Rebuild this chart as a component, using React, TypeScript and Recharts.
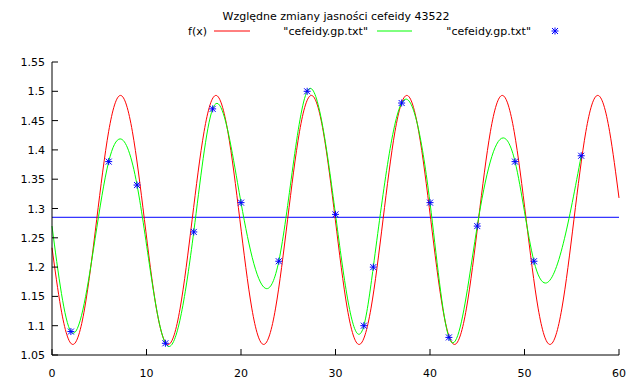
import React from 'react';
import { ComposedChart, Line, Scatter, XAxis, YAxis, ReferenceLine } from 'recharts';

const title = 'Względne zmiany jasności cefeidy 43522';
const seriesNames = ['f(x)', '"cefeidy.gp.txt"', '"cefeidy.gp.txt"'];

const xTicks = [0, 10, 20, 30, 40, 50, 60];
const yTicks = [1.05, 1.1, 1.15, 1.2, 1.25, 1.3, 1.35, 1.4, 1.45, 1.5, 1.55];

// f(x): fitted curve
const fitX = [
  0, 0.94, 2.2, 3.46, 4.73, 5.99, 7.25, 8.51, 9.78, 11.04, 12.3, 13.56, 14.83, 16.09, 17.35, 18.61,
  19.88, 21.14, 22.4, 23.66, 24.93, 26.19, 27.45, 28.71, 29.98, 31.24, 32.5, 33.76, 35.03, 36.29,
  37.55, 38.81, 40.08, 41.34, 42.6, 43.86, 45.13, 46.39, 47.65, 48.91, 50.18, 51.44, 52.7, 53.96,
  55.23, 56.49, 57.75, 59.01, 60,
];
const fitY = [
  1.233, 1.13, 1.068, 1.13, 1.281, 1.431, 1.493, 1.431, 1.281, 1.13, 1.068, 1.13, 1.281, 1.431, 1.493, 1.431,
  1.281, 1.13, 1.068, 1.13, 1.281, 1.431, 1.493, 1.431, 1.281, 1.13, 1.068, 1.13, 1.281, 1.431,
  1.493, 1.431, 1.281, 1.13, 1.068, 1.13, 1.281, 1.431, 1.493, 1.431, 1.281, 1.13, 1.068, 1.13,
  1.281, 1.431, 1.493, 1.431, 1.318,
];

// measurements (cefeidy.gp.txt)
const obsX = [2, 6, 9, 12, 15, 17, 20, 24, 27, 30, 33, 34, 37, 40, 42, 45, 49, 51, 56];
const obsY = [1.09, 1.38, 1.34, 1.07, 1.26, 1.47, 1.31, 1.21, 1.5, 1.29, 1.1, 1.2, 1.48, 1.31, 1.08, 1.27, 1.38, 1.21, 1.39];

// smoothed line starts at the left border
const smoothX = [0, ...obsX];
const smoothY = [1.27, ...obsY];

const meanLevel = 1.285;

const fitData = fitX.map((x, i) => ({ x, y: fitY[i] }));
const smoothData = smoothX.map((x, i) => ({ x, y: smoothY[i] }));
const obsData = obsX.map((x, i) => ({ x, y: obsY[i] }));

const FONT = '"DejaVu Sans", Verdana, sans-serif';

// natural cubic spline of y over x (like gnuplot "smooth csplines"), drawn as bezier segments
const xSpline = (context: any) => {
  let xs: number[] = [];
  let ys: number[] = [];
  return {
    areaStart() {},
    areaEnd() {},
    lineStart() {
      xs = [];
      ys = [];
    },
    point(x: number, y: number) {
      xs.push(+x);
      ys.push(+y);
    },
    lineEnd() {
      const n = xs.length;
      if (!n) return;
      context.moveTo(xs[0], ys[0]);
      if (n === 1) return;
      if (n === 2) {
        context.lineTo(xs[1], ys[1]);
        return;
      }
      const h: number[] = [];
      for (let i = 0; i < n - 1; i++) h.push(xs[i + 1] - xs[i]);
      const a: number[] = [], b: number[] = [], c: number[] = [], r: number[] = [];
      for (let i = 1; i < n - 1; i++) {
        a.push(h[i - 1]);
        b.push(2 * (h[i - 1] + h[i]));
        c.push(h[i]);
        r.push(6 * ((ys[i + 1] - ys[i]) / h[i] - (ys[i] - ys[i - 1]) / h[i - 1]));
      }
      const m = n - 2;
      for (let i = 1; i < m; i++) {
        const w = a[i] / b[i - 1];
        b[i] -= w * c[i - 1];
        r[i] -= w * r[i - 1];
      }
      const sol = new Array(m).fill(0);
      sol[m - 1] = r[m - 1] / b[m - 1];
      for (let i = m - 2; i >= 0; i--) sol[i] = (r[i] - c[i] * sol[i + 1]) / b[i];
      const M = [0, ...sol, 0];
      for (let i = 0; i < n - 1; i++) {
        const s = (ys[i + 1] - ys[i]) / h[i];
        const d0 = s - (h[i] * (2 * M[i] + M[i + 1])) / 6;
        const d1 = s + (h[i] * (M[i] + 2 * M[i + 1])) / 6;
        context.bezierCurveTo(
          xs[i] + h[i] / 3,
          ys[i] + (d0 * h[i]) / 3,
          xs[i + 1] - h[i] / 3,
          ys[i + 1] - (d1 * h[i]) / 3,
          xs[i + 1],
          ys[i + 1],
        );
      }
    },
  };
};

const BottomTick = ({ x, y, payload }: any) => (
  <g>
    <line x1={x} y1={y} x2={x} y2={y - 6} stroke="#000" />
    <text x={x} y={y + 22} textAnchor="middle" fontSize={11} fontFamily={FONT} fill="#000">
      {payload.value}
    </text>
  </g>
);

const LeftTick = ({ x, y, payload }: any) => (
  <g>
    <line x1={x} y1={y} x2={x + 6} y2={y} stroke="#000" />
    <text x={x - 7} y={y + 4} textAnchor="end" fontSize={11} fontFamily={FONT} fill="#000">
      {String(Number(payload.value.toFixed(2)))}
    </text>
  </g>
);

const TopTick = ({ x, y }: any) => <line x1={x} y1={y} x2={x} y2={y + 6} stroke="#000" />;
const RightTick = ({ x, y }: any) => <line x1={x} y1={y} x2={x - 6} y2={y} stroke="#000" />;

const Star = ({ cx, cy }: any) => (
  <g stroke="#0000ff" strokeWidth={1}>
    <line x1={cx - 3.5} y1={cy} x2={cx + 3.5} y2={cy} />
    <line x1={cx} y1={cy - 3.5} x2={cx} y2={cy + 3.5} />
    <line x1={cx - 3} y1={cy - 3} x2={cx + 3} y2={cy + 3} />
    <line x1={cx - 3} y1={cy + 3} x2={cx + 3} y2={cy - 3} />
  </g>
);

export default function App() {
  return (
    <div style={{ position: 'absolute', left: 0, top: 0, width: 640, height: 387, background: '#fff' }}>
      <ComposedChart width={640} height={387} margin={{ top: 62, right: 21, bottom: 0, left: 0 }}>
        <XAxis
          xAxisId="b"
          dataKey="x"
          type="number"
          domain={[0, 60]}
          ticks={xTicks}
          height={32}
          tickSize={0}
          tickMargin={0}
          tickLine={false}
          stroke="#000"
          tick={<BottomTick />}
        />
        <XAxis
          xAxisId="t"
          orientation="top"
          dataKey="x"
          type="number"
          domain={[0, 60]}
          ticks={xTicks.slice(1, -1)}
          height={0}
          tickSize={0}
          tickMargin={0}
          tickLine={false}
          stroke="#000"
          tick={<TopTick />}
        />
        <YAxis
          yAxisId="l"
          type="number"
          domain={[1.05, 1.55]}
          ticks={yTicks}
          width={52}
          tickSize={0}
          tickMargin={0}
          tickLine={false}
          stroke="#000"
          tick={<LeftTick />}
        />
        <YAxis
          yAxisId="r"
          orientation="right"
          type="number"
          domain={[1.05, 1.55]}
          ticks={yTicks.slice(1, -1)}
          width={0}
          tickSize={0}
          tickMargin={0}
          tickLine={false}
          stroke="#000"
          tick={<RightTick />}
        />
        <ReferenceLine xAxisId="b" yAxisId="l" y={meanLevel} stroke="#0000ff" strokeWidth={1} />
        <Line
          xAxisId="b"
          yAxisId="l"
          data={fitData}
          dataKey="y"
          type={xSpline as any}
          stroke="#ff0000"
          strokeWidth={1}
          dot={false}
          isAnimationActive={false}
        />
        <Line
          xAxisId="b"
          yAxisId="l"
          data={smoothData}
          dataKey="y"
          type={xSpline as any}
          stroke="#00ff00"
          strokeWidth={1}
          dot={false}
          isAnimationActive={false}
        />
        <Scatter
          xAxisId="b"
          yAxisId="l"
          data={obsData}
          dataKey="y"
          shape={<Star />}
          isAnimationActive={false}
        />
      </ComposedChart>
      <svg width={640} height={45} style={{ position: 'absolute', left: 0, top: 0 }}>
        <text x={336} y={20} textAnchor="middle" fontSize={11} fontFamily={FONT} fill="#000">
          {title}
        </text>
        <text x={207} y={35} textAnchor="end" fontSize={11} fontFamily={FONT} fill="#000">
          {seriesNames[0]}
        </text>
        <line x1={214} y1={31} x2={250} y2={31} stroke="#ff0000" />
        <text x={368} y={35} textAnchor="end" fontSize={11} fontFamily={FONT} fill="#000">
          {seriesNames[1]}
        </text>
        <line x1={377} y1={31} x2={412} y2={31} stroke="#00ff00" />
        <text x={531} y={35} textAnchor="end" fontSize={11} fontFamily={FONT} fill="#000">
          {seriesNames[2]}
        </text>
        <Star cx={555} cy={31} />
      </svg>
    </div>
  );
}
